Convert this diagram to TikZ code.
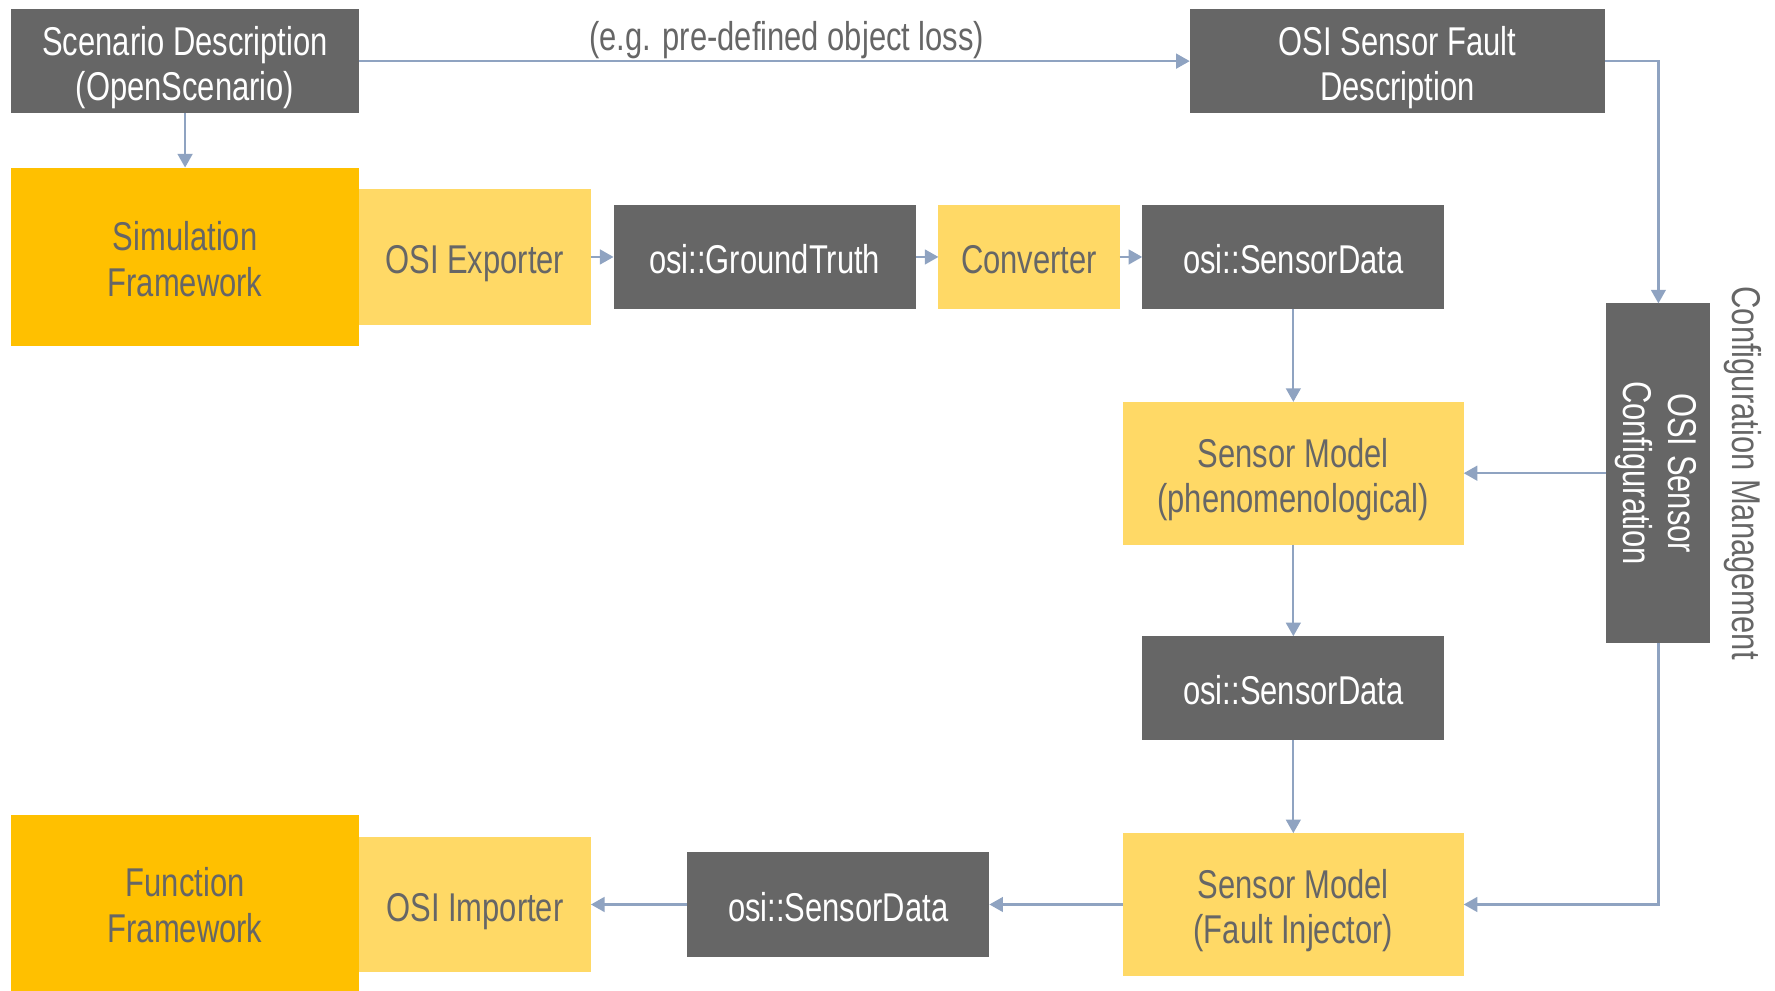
\documentclass[tikz,border=0pt]{standalone}
\usepackage{fontspec}
\setmainfont{Liberation Sans}[FakeStretch=0.77]
\usetikzlibrary{arrows.meta}
\definecolor{darkbox}{HTML}{666666}
\definecolor{goldbox}{HTML}{FFC000}
\definecolor{lightbox}{HTML}{FFD966}
\definecolor{arrowc}{HTML}{8FA3C1}
\definecolor{txtgray}{HTML}{666666}
\newcommand{\myTop}{\rule{0pt}{37pt}}
\newcommand{\myBot}{\rule[-7.6pt]{0pt}{7.6pt}}
\tikzset{
  base/.style={inner sep=0pt, outer sep=0pt, align=center, font=\fontsize{35.5}{40}\selectfont},
  dbox/.style={base, fill=darkbox, text=white},
  gbox/.style={base, fill=goldbox, text=txtgray},
  lbox/.style={base, fill=lightbox, text=txtgray},
  conn/.style={draw=arrowc, line width=2pt, -{Triangle[width=13pt,length=12pt]}},
}
\begin{document}
\begin{tikzpicture}[x=1pt,y=-1pt]
\useasboundingbox (0,0) rectangle (1568,875);
% nodes
\node[dbox, minimum width=307pt, minimum height=92pt] (scen) at (163.5,54) {\myTop Scenario Description\\(OpenScenario)\myBot};
\node[dbox, minimum width=367pt, minimum height=92pt] (fault) at (1234.5,54) {\myTop OSI Sensor Fault\\Description\myBot};
\node[gbox, minimum width=307pt, minimum height=158pt] (sim) at (163.5,227) {\myTop Simulation\\Framework\myBot};
\node[lbox, minimum width=205pt, minimum height=120pt] (exp) at (419.5,227) {\myTop OSI Exporter\myBot};
\node[dbox, minimum width=267pt, minimum height=92pt] (gt) at (675.5,227) {\myTop osi::GroundTruth\myBot};
\node[lbox, minimum width=160pt, minimum height=92pt] (conv) at (909,227) {\myTop Converter\myBot};
\node[dbox, minimum width=267pt, minimum height=92pt] (sd1) at (1142.5,227) {\myTop osi::SensorData\myBot};
\node[lbox, minimum width=301pt, minimum height=126pt] (phen) at (1142.5,418) {\myTop Sensor Model\\(phenomenological)\myBot};
\node[dbox, minimum width=92pt, minimum height=300pt] (cfg) at (1465,418) {};
\node[base, text=white, rotate=-90] (cfgtxt) at ([xshift=4pt]cfg.center) {\myTop OSI Sensor\\Configuration\myBot};
\node[base, text=txtgray, rotate=-90] (cfgmgmt) at (1545,418) {\myTop Configuration Management\myBot};
\node[dbox, minimum width=267pt, minimum height=92pt] (sd2) at (1142.5,608) {\myTop osi::SensorData\myBot};
\node[lbox, minimum width=301pt, minimum height=126pt] (inj) at (1142.5,799) {\myTop Sensor Model\\(Fault Injector)\myBot};
\node[dbox, minimum width=267pt, minimum height=93pt] (sd3) at (740.5,799) {\myTop osi::SensorData\myBot};
\node[lbox, minimum width=205pt, minimum height=120pt] (imp) at (419.5,799) {\myTop OSI Importer\myBot};
\node[gbox, minimum width=307pt, minimum height=155pt] (func) at (163.5,797.5) {\myTop Function\\Framework\myBot};
\node[base, text=txtgray] (note) at (695,30) {\myTop (e.g. pre-defined object loss)\myBot};
% connectors
\draw[conn] (scen.south) -- (sim.north);
\draw[conn] (scen.east) -- (fault.west);
\draw[conn] (exp.east) -- (gt.west);
\draw[conn] (gt.east) -- (conv.west);
\draw[conn] (conv.east) -- (sd1.west);
\draw[conn] (fault.east) -| (cfg.north);
\draw[conn] (cfg.west) -- (phen.east);
\draw[conn] (cfg.south) |- (inj.east);
\draw[conn] (sd1.south) -- (phen.north);
\draw[conn] (phen.south) -- (sd2.north);
\draw[conn] (sd2.south) -- (inj.north);
\draw[conn] (inj.west) -- (sd3.east);
\draw[conn] (sd3.west) -- (imp.east);
\end{tikzpicture}
\end{document}
